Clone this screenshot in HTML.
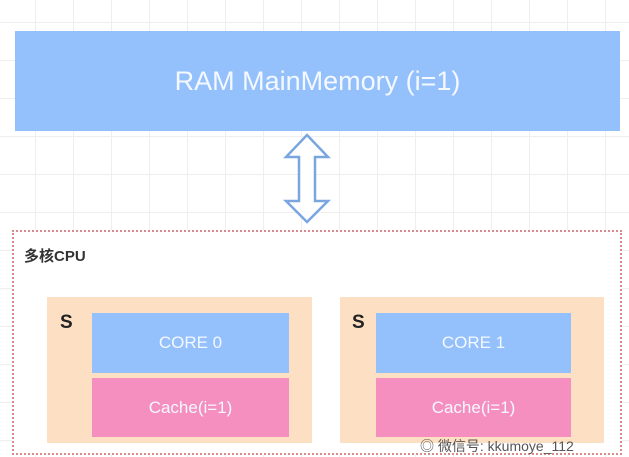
<!DOCTYPE html><html><head><meta charset="utf-8"><style>
body{margin:0;width:629px;height:457px;overflow:hidden;position:relative;font-family:"Liberation Sans","Noto Sans CJK SC",sans-serif;
background-color:#fff;background-image:linear-gradient(#eee 1px,transparent 1px),linear-gradient(90deg,#eee 1px,transparent 1px);background-size:38px 38px;background-position:35px 22px}
div{position:absolute;box-sizing:border-box}
.c{display:flex;align-items:center;justify-content:center;color:#f4f8ff}
</style></head><body>
<div class="c" style="left:15px;top:31px;width:605px;height:100px;background:#94c0fb;font-size:27px;">RAM MainMemory (i=1)</div>
<svg style="position:absolute;left:282px;top:133px" width="52" height="92"><path d="M25 2 L46 24 L33 24 L33 68 L46 68 L25 89 L4 68 L17 68 L17 24 L4 24 Z" fill="#fff" stroke="#7aa6e0" stroke-width="2.5"/></svg>
<div style="left:12px;top:230px;width:610px;height:225px;border:2px dotted #d98a8a;background:#fff"></div>
<div style="left:24px;top:245px;font-size:15px;font-weight:bold;color:#333">多核CPU</div>
<div style="left:47px;top:297px;width:265px;height:146px;background:#fde0c3"></div>
<div style="left:340px;top:297px;width:264px;height:146px;background:#fde0c3"></div>
<div style="left:60px;top:312px;font-size:19px;font-weight:bold;color:#222">S</div>
<div style="left:352px;top:312px;font-size:19px;font-weight:bold;color:#222">S</div>
<div class="c" style="left:92px;top:313px;width:197px;height:60px;background:#94c0fb;font-size:17px">CORE 0</div>
<div class="c" style="left:92px;top:378px;width:197px;height:59px;background:#f58fbf;font-size:17px">Cache(i=1)</div>
<div class="c" style="left:376px;top:313px;width:195px;height:60px;background:#94c0fb;font-size:17px">CORE 1</div>
<div class="c" style="left:376px;top:378px;width:195px;height:59px;background:#f58fbf;font-size:17px">Cache(i=1)</div>
<div style="left:420px;top:436px;font-size:14px;color:#555">◎ 微信号: kkumoye_112</div>
</body></html>
